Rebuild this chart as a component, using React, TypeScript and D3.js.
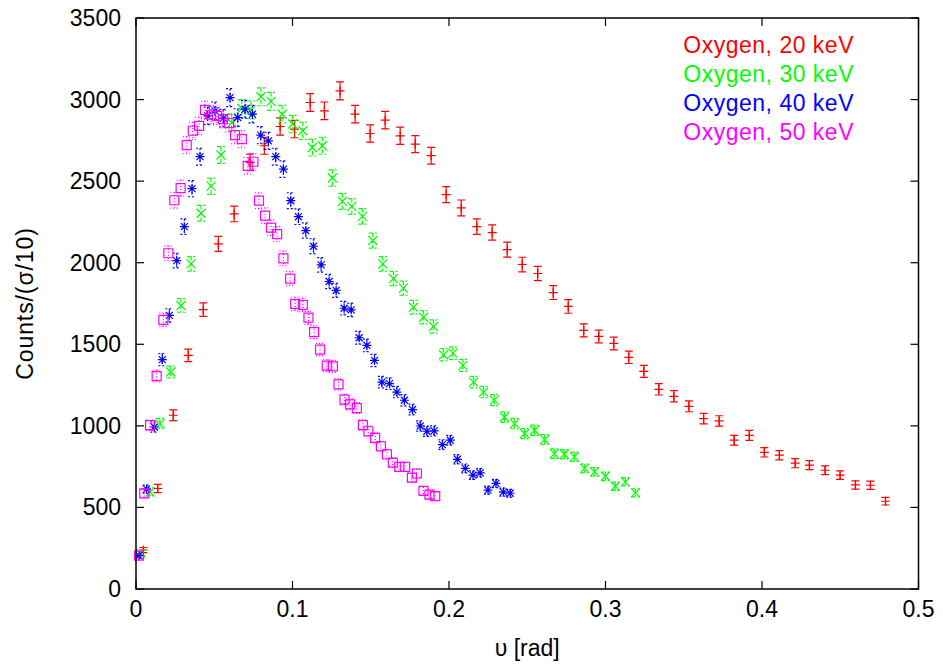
import React from "react";
import * as d3 from "d3";

const X_TICKS = [0, 0.1, 0.2, 0.3, 0.4, 0.5];
const X_TICK_LABELS = ["0", "0.1", "0.2", "0.3", "0.4", "0.5"];
const Y_TICKS = [0, 500, 1000, 1500, 2000, 2500, 3000, 3500];
const Y_TICK_LABELS = ["0", "500", "1000", "1500", "2000", "2500", "3000", "3500"];
const SERIES_NAMES = ["Oxygen, 20 keV", "Oxygen, 30 keV", "Oxygen, 40 keV", "Oxygen, 50 keV"];

const o20_x = [0.0047, 0.0139, 0.0238, 0.0334, 0.043, 0.0526, 0.0627, 0.0729, 0.082, 0.0921, 0.1013, 0.1113, 0.1204, 0.1304, 0.14, 0.1496, 0.1592, 0.1688, 0.1784, 0.1886, 0.1982, 0.2078, 0.2178, 0.2276, 0.2372, 0.2468, 0.2567, 0.2666, 0.2762, 0.2861, 0.2957, 0.3053, 0.3149, 0.3245, 0.3341, 0.3437, 0.3533, 0.3627, 0.3726, 0.3822, 0.3919, 0.4015, 0.4111, 0.4212, 0.4303, 0.4403, 0.4499, 0.4597, 0.4693, 0.4789];
const o20_y = [239, 616, 1065, 1432, 1712, 2115, 2299, 2615, 2717, 2835, 2819, 2982, 2931, 3053, 2911, 2792, 2874, 2778, 2727, 2656, 2417, 2336, 2221, 2185, 2080, 1989, 1934, 1817, 1732, 1585, 1548, 1505, 1420, 1334, 1224, 1181, 1120, 1044, 1030, 912, 942, 838, 820, 771, 759, 728, 698, 638, 636, 538];

const o30_x = [0.0032, 0.009, 0.0153, 0.0222, 0.0288, 0.0352, 0.0416, 0.048, 0.0543, 0.0612, 0.0676, 0.0735, 0.0799, 0.0863, 0.0934, 0.1001, 0.1066, 0.1127, 0.1191, 0.1255, 0.1319, 0.1379, 0.1447, 0.1513, 0.1577, 0.1645, 0.1709, 0.1773, 0.1837, 0.1901, 0.1965, 0.2025, 0.2089, 0.2157, 0.2221, 0.2289, 0.2355, 0.2419, 0.2483, 0.2547, 0.2611, 0.2673, 0.2737, 0.2801, 0.2866, 0.293, 0.2999, 0.3063, 0.3127, 0.3192];
const o30_y = [220, 595, 1014, 1330, 1738, 1993, 2303, 2469, 2660, 2859, 2945, 2937, 3017, 2989, 2910, 2850, 2809, 2706, 2717, 2519, 2376, 2345, 2284, 2136, 1993, 1903, 1844, 1727, 1666, 1609, 1436, 1446, 1371, 1268, 1207, 1158, 1054, 1014, 953, 973, 916, 830, 826, 810, 739, 718, 691, 630, 657, 589];

const o40_x = [0.0019, 0.0068, 0.0117, 0.0168, 0.0213, 0.026, 0.0309, 0.0358, 0.0409, 0.0458, 0.0505, 0.0558, 0.0601, 0.065, 0.0697, 0.0744, 0.0797, 0.0846, 0.0893, 0.0942, 0.0989, 0.1038, 0.1085, 0.1134, 0.1183, 0.1234, 0.1279, 0.133, 0.1375, 0.1426, 0.1475, 0.1524, 0.1571, 0.162, 0.1667, 0.1715, 0.1767, 0.1816, 0.1859, 0.1905, 0.1958, 0.2008, 0.2054, 0.2104, 0.2153, 0.2199, 0.2249, 0.23, 0.2347, 0.2391];
const o40_y = [204, 612, 993, 1406, 1677, 2013, 2221, 2454, 2650, 2900, 2931, 2886, 3012, 2890, 2941, 2911, 2782, 2747, 2650, 2574, 2380, 2282, 2197, 2101, 1987, 1885, 1830, 1721, 1711, 1540, 1493, 1401, 1268, 1259, 1207, 1157, 1100, 999, 967, 969, 885, 912, 795, 739, 698, 712, 606, 647, 594, 587];

const o50_x = [0.0019, 0.0053, 0.009, 0.0132, 0.0175, 0.0207, 0.0245, 0.0285, 0.0324, 0.0363, 0.0403, 0.0441, 0.048, 0.0518, 0.0556, 0.0595, 0.0633, 0.0676, 0.0714, 0.075, 0.0786, 0.0825, 0.0863, 0.0902, 0.0942, 0.0985, 0.1017, 0.1066, 0.1102, 0.1138, 0.1176, 0.1219, 0.1258, 0.1294, 0.1332, 0.1368, 0.1411, 0.145, 0.1485, 0.1528, 0.1565, 0.1603, 0.1641, 0.1682, 0.172, 0.1763, 0.1795, 0.1837, 0.1875, 0.1912];
const o50_y = [204, 586, 1004, 1305, 1650, 2058, 2383, 2457, 2721, 2809, 2839, 2937, 2907, 2900, 2880, 2856, 2782, 2758, 2594, 2619, 2380, 2289, 2215, 2175, 2027, 1903, 1748, 1742, 1663, 1574, 1467, 1369, 1365, 1254, 1161, 1132, 1109, 1005, 967, 926, 875, 826, 775, 748, 748, 683, 708, 601, 579, 569];

const W = 943;
const H = 666;
const L = 136;
const R = 918.5;
const T = 18;
const B = 589;
const FONT = "'Liberation Sans', Arial, Helvetica, sans-serif";
const FS = 23;

type Kind = "plus" | "cross" | "star" | "box";
const SERIES: { name: string; xs: number[]; ys: number[]; color: string; dash: string | undefined; kind: Kind }[] = [
  { name: SERIES_NAMES[0], xs: o20_x, ys: o20_y, color: "#ff0000", dash: undefined, kind: "plus" },
  { name: SERIES_NAMES[1], xs: o30_x, ys: o30_y, color: "#00ff00", dash: "4,2", kind: "cross" },
  { name: SERIES_NAMES[2], xs: o40_x, ys: o40_y, color: "#0000ff", dash: "2,2", kind: "star" },
  { name: SERIES_NAMES[3], xs: o50_x, ys: o50_y, color: "#ff00ff", dash: "1,2", kind: "box" },
];

function markerPath(kind: Kind, cx: number, cy: number): string {
  const s = 4.5;
  const p = d3.path();
  if (kind === "plus" || kind === "star") {
    p.moveTo(cx - s, cy); p.lineTo(cx + s, cy);
    p.moveTo(cx, cy - s); p.lineTo(cx, cy + s);
  }
  if (kind === "cross" || kind === "star") {
    const c = kind === "star" ? s * 0.78 : s;
    p.moveTo(cx - c, cy - c); p.lineTo(cx + c, cy + c);
    p.moveTo(cx - c, cy + c); p.lineTo(cx + c, cy - c);
  }
  if (kind === "box") {
    p.rect(cx - s, cy - s, 2 * s, 2 * s);
  }
  return p.toString();
}

export default function App() {
  const x = d3.scaleLinear().domain([0, 0.5]).range([L, R]);
  const y = d3.scaleLinear().domain([0, 3500]).range([B, T]);
  const tick = 8;
  const cap = 4;

  return (
    <svg width={W} height={H} style={{ position: "absolute", left: 0, top: 0, background: "#fff" }} fontFamily={FONT}>
      <rect x={0} y={0} width={W} height={H} fill="#fff" />
      {SERIES.map((s, si) => (
        <g key={si}>
          {s.xs.map((xv, i) => {
            const yv = s.ys[i];
            const e = Math.sqrt(yv);
            const cx = x(xv);
            const cy = y(yv);
            const y1 = y(yv + e);
            const y2 = y(yv - e);
            const bar = d3.path();
            bar.moveTo(cx, y1); bar.lineTo(cx, y2);
            bar.moveTo(cx - cap, y1); bar.lineTo(cx + cap, y1);
            bar.moveTo(cx - cap, y2); bar.lineTo(cx + cap, y2);
            return (
              <g key={i}>
                <path d={bar.toString()} stroke={s.color} strokeWidth={1.2} strokeDasharray={s.dash} fill="none" />
                <path d={markerPath(s.kind, cx, cy)} stroke={s.color} strokeWidth={1.2} fill="none" />
              </g>
            );
          })}
        </g>
      ))}
      {Y_TICKS.map((v, i) => (
        <g key={"y" + i}>
          <line x1={L} x2={L + tick} y1={y(v)} y2={y(v)} stroke="#000" strokeWidth={1.2} />
          <line x1={R} x2={R - tick} y1={y(v)} y2={y(v)} stroke="#000" strokeWidth={1.2} />
          <text x={121} y={y(v) + 8} textAnchor="end" fontSize={FS} fill="#000">{Y_TICK_LABELS[i]}</text>
        </g>
      ))}
      {X_TICKS.map((v, i) => (
        <g key={"x" + i}>
          <line x1={x(v)} x2={x(v)} y1={B} y2={B - tick} stroke="#000" strokeWidth={1.2} />
          <line x1={x(v)} x2={x(v)} y1={T} y2={T + tick} stroke="#000" strokeWidth={1.2} />
          <text x={x(v)} y={617} textAnchor="middle" fontSize={FS} fill="#000">{X_TICK_LABELS[i]}</text>
        </g>
      ))}
      <rect x={L} y={T} width={R - L} height={B - T} fill="none" stroke="#000" strokeWidth={1.5} />
      {SERIES.map((s, i) => (
        <text key={"l" + i} x={854} y={53 + i * 29} textAnchor="end" fontSize={FS} letterSpacing={0.5} fill={s.color}>{s.name}</text>
      ))}
      <text x={(L + R) / 2} y={656} textAnchor="middle" fontSize={FS} fill="#000">υ [rad]</text>
      <text transform={`translate(33, ${(T + B) / 2}) rotate(-90)`} textAnchor="middle" fontSize={FS} letterSpacing={0.9} fill="#000">Counts/(σ/10)</text>
    </svg>
  );
}
